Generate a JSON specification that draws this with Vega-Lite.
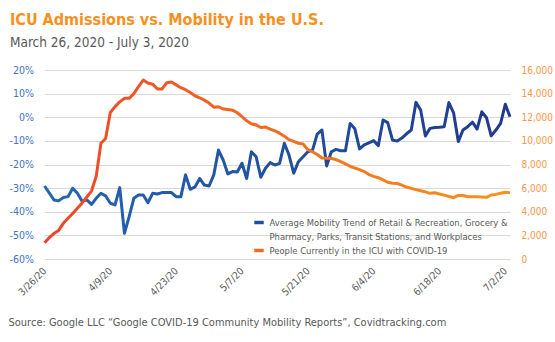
{
  "$schema": "https://vega.github.io/schema/vega-lite/v6.json",
  "autosize": "none",
  "width": 465.5,
  "height": 189,
  "padding": {"top": 70, "left": 44.5, "right": 45, "bottom": 83},
  "config": {"view": {"stroke": null}, "font": "DejaVu Sans Condensed"},
  "title": {
    "text": "ICU Admissions vs. Mobility in the U.S.",
    "subtitle": "March 26, 2020 - July 3, 2020",
    "anchor": "start", "frame": "group", "dx": -34.5, "offset": 16,
    "font": "DejaVu Sans Condensed", "fontSize": 16, "fontWeight": "bold", "color": "#F7901E",
    "subtitleFont": "DejaVu Sans Condensed", "subtitleFontSize": 13.5, "subtitleColor": "#595959", "subtitlePadding": 8
  },
  "data": {"values": [
    {"date":"2020-03-26","mobility":-29.1,"icu":1380},
    {"date":"2020-03-27","mobility":-32.0,"icu":1800},
    {"date":"2020-03-28","mobility":-35.0,"icu":2150},
    {"date":"2020-03-29","mobility":-35.4,"icu":2420},
    {"date":"2020-03-30","mobility":-34.0,"icu":3020},
    {"date":"2020-03-31","mobility":-33.6,"icu":3450},
    {"date":"2020-04-01","mobility":-30.1,"icu":3850},
    {"date":"2020-04-02","mobility":-32.2,"icu":4300},
    {"date":"2020-04-03","mobility":-35.5,"icu":4750},
    {"date":"2020-04-04","mobility":-35.0,"icu":5250},
    {"date":"2020-04-05","mobility":-36.9,"icu":5750},
    {"date":"2020-04-06","mobility":-34.3,"icu":7000},
    {"date":"2020-04-07","mobility":-32.2,"icu":9800},
    {"date":"2020-04-08","mobility":-33.3,"icu":10200},
    {"date":"2020-04-09","mobility":-36.4,"icu":12400},
    {"date":"2020-04-10","mobility":-37.1,"icu":12900},
    {"date":"2020-04-11","mobility":-29.8,"icu":13300},
    {"date":"2020-04-12","mobility":-49.1,"icu":13600},
    {"date":"2020-04-13","mobility":-42.1,"icu":13600},
    {"date":"2020-04-14","mobility":-34.3,"icu":14000},
    {"date":"2020-04-15","mobility":-32.9,"icu":14600},
    {"date":"2020-04-16","mobility":-32.9,"icu":15150},
    {"date":"2020-04-17","mobility":-36.2,"icu":14900},
    {"date":"2020-04-18","mobility":-32.2,"icu":14800},
    {"date":"2020-04-19","mobility":-32.5,"icu":14400},
    {"date":"2020-04-20","mobility":-31.9,"icu":14400},
    {"date":"2020-04-21","mobility":-31.9,"icu":14920},
    {"date":"2020-04-22","mobility":-31.9,"icu":14980},
    {"date":"2020-04-23","mobility":-33.6,"icu":14740},
    {"date":"2020-04-24","mobility":-33.6,"icu":14500},
    {"date":"2020-04-25","mobility":-24.4,"icu":14330},
    {"date":"2020-04-26","mobility":-30.5,"icu":14100},
    {"date":"2020-04-27","mobility":-29.5,"icu":13820},
    {"date":"2020-04-28","mobility":-25.9,"icu":13650},
    {"date":"2020-04-29","mobility":-28.7,"icu":13450},
    {"date":"2020-04-30","mobility":-29.1,"icu":13200},
    {"date":"2020-05-01","mobility":-24.4,"icu":12850},
    {"date":"2020-05-02","mobility":-13.9,"icu":12890},
    {"date":"2020-05-03","mobility":-18.1,"icu":12700},
    {"date":"2020-05-04","mobility":-24.0,"icu":12650},
    {"date":"2020-05-05","mobility":-23.0,"icu":12600},
    {"date":"2020-05-06","mobility":-23.2,"icu":12380},
    {"date":"2020-05-07","mobility":-19.5,"icu":12050},
    {"date":"2020-05-08","mobility":-25.9,"icu":11700},
    {"date":"2020-05-09","mobility":-14.6,"icu":11450},
    {"date":"2020-05-10","mobility":-16.7,"icu":11350},
    {"date":"2020-05-11","mobility":-25.4,"icu":11130},
    {"date":"2020-05-12","mobility":-21.6,"icu":11170},
    {"date":"2020-05-13","mobility":-19.2,"icu":11000},
    {"date":"2020-05-14","mobility":-20.2,"icu":10850},
    {"date":"2020-05-15","mobility":-19.5,"icu":10650},
    {"date":"2020-05-16","mobility":-11.0,"icu":10400},
    {"date":"2020-05-17","mobility":-16.0,"icu":10100},
    {"date":"2020-05-18","mobility":-23.7,"icu":9950},
    {"date":"2020-05-19","mobility":-18.8,"icu":9800},
    {"date":"2020-05-20","mobility":-16.7,"icu":9740},
    {"date":"2020-05-21","mobility":-14.6,"icu":9250},
    {"date":"2020-05-22","mobility":-13.9,"icu":9080},
    {"date":"2020-05-23","mobility":-7.1,"icu":8850},
    {"date":"2020-05-24","mobility":-5.4,"icu":8550},
    {"date":"2020-05-25","mobility":-20.6,"icu":8530},
    {"date":"2020-05-26","mobility":-14.6,"icu":8500},
    {"date":"2020-05-27","mobility":-13.6,"icu":8420},
    {"date":"2020-05-28","mobility":-14.2,"icu":8250},
    {"date":"2020-05-29","mobility":-14.2,"icu":8050},
    {"date":"2020-05-30","mobility":-2.6,"icu":7850},
    {"date":"2020-05-31","mobility":-4.9,"icu":7700},
    {"date":"2020-06-01","mobility":-13.4,"icu":7570},
    {"date":"2020-06-02","mobility":-11.7,"icu":7400},
    {"date":"2020-06-03","mobility":-10.8,"icu":7150},
    {"date":"2020-06-04","mobility":-9.9,"icu":7000},
    {"date":"2020-06-05","mobility":-12.0,"icu":6880},
    {"date":"2020-06-06","mobility":-1.2,"icu":6700},
    {"date":"2020-06-07","mobility":-2.3,"icu":6500},
    {"date":"2020-06-08","mobility":-9.6,"icu":6410},
    {"date":"2020-06-09","mobility":-10.1,"icu":6400},
    {"date":"2020-06-10","mobility":-8.8,"icu":6250},
    {"date":"2020-06-11","mobility":-7.0,"icu":6090},
    {"date":"2020-06-12","mobility":-5.4,"icu":5980},
    {"date":"2020-06-13","mobility":6.3,"icu":5870},
    {"date":"2020-06-14","mobility":3.1,"icu":5780},
    {"date":"2020-06-15","mobility":-7.9,"icu":5680},
    {"date":"2020-06-16","mobility":-4.7,"icu":5560},
    {"date":"2020-06-17","mobility":-4.3,"icu":5610},
    {"date":"2020-06-18","mobility":-4.2,"icu":5500},
    {"date":"2020-06-19","mobility":-4.0,"icu":5410},
    {"date":"2020-06-20","mobility":6.2,"icu":5300},
    {"date":"2020-06-21","mobility":1.9,"icu":5190},
    {"date":"2020-06-22","mobility":-10.3,"icu":5380},
    {"date":"2020-06-23","mobility":-5.4,"icu":5380},
    {"date":"2020-06-24","mobility":-4.0,"icu":5275},
    {"date":"2020-06-25","mobility":-2.1,"icu":5275},
    {"date":"2020-06-26","mobility":-5.0,"icu":5275},
    {"date":"2020-06-27","mobility":2.3,"icu":5250},
    {"date":"2020-06-28","mobility":-0.2,"icu":5220},
    {"date":"2020-06-29","mobility":-7.9,"icu":5420},
    {"date":"2020-06-30","mobility":-5.4,"icu":5470},
    {"date":"2020-07-01","mobility":-2.6,"icu":5560},
    {"date":"2020-07-02","mobility":5.5,"icu":5645},
    {"date":"2020-07-03","mobility":0.2,"icu":5615}
  ]},
  "encoding": {
    "x": {
      "field": "date", "type": "temporal",
      "scale": {"type": "utc", "domain": [{"year": 2020, "month": 3, "date": 26, "utc": true}, {"year": 2020, "month": 7, "date": 3, "utc": true}], "nice": false},
      "axis": {
        "values": [
          {"year": 2020, "month": 3, "date": 26, "utc": true},
          {"year": 2020, "month": 4, "date": 9, "utc": true},
          {"year": 2020, "month": 4, "date": 23, "utc": true},
          {"year": 2020, "month": 5, "date": 7, "utc": true},
          {"year": 2020, "month": 5, "date": 21, "utc": true},
          {"year": 2020, "month": 6, "date": 4, "utc": true},
          {"year": 2020, "month": 6, "date": 18, "utc": true},
          {"year": 2020, "month": 7, "date": 2, "utc": true}
        ],
        "labelExpr": "utcFormat(datum.value, '%-m/%-d/%y')",
        "labelAngle": -45, "labelAlign": "right", "labelBaseline": "middle", "labelPadding": 10,
        "labelOverlap": false, "labelFlush": false, "labelBound": false,
        "labelColor": "#595959", "labelFont": "DejaVu Sans Condensed", "labelFontSize": 10,
        "domain": false, "ticks": false, "grid": false,
        "title": "Source: Google LLC \u201cGoogle COVID-19 Community Mobility Reports\u201d, Covidtracking.com",
        "titleAnchor": "start", "titleAlign": "left", "titleX": -36.5, "titleY": 63, "titleBaseline": "middle",
        "titleFont": "DejaVu Sans Condensed", "titleFontWeight": "normal", "titleFontSize": 11, "titleColor": "#595959"
      }
    }
  },
  "layer": [
    {
      "mark": {"type": "line", "strokeWidth": 3, "strokeJoin": "round",
        "stroke": {"gradient": "linear", "x1": 0, "y1": 0, "x2": 1, "y2": 0,
          "stops": [{"offset": 0, "color": "#2466B2"}, {"offset": 1, "color": "#1E3A8E"}]}},
      "encoding": {
        "y": {"field": "mobility", "type": "quantitative",
          "scale": {"domain": [-60, 20], "nice": false, "zero": false},
          "axis": {"orient": "left", "values": [-60, -50, -40, -30, -20, -10, 0, 10, 20],
            "labelExpr": "datum.value + '%'", "grid": true, "gridColor": "#D9D9D9", "gridWidth": 1,
            "domain": false, "ticks": false, "labelColor": "#4472C4", "labelFont": "DejaVu Sans Condensed",
            "labelFontSize": 10.5, "labelPadding": 11, "title": null}}
      }
    },
    {
      "mark": {"type": "line", "strokeWidth": 3, "strokeJoin": "round",
        "stroke": {"gradient": "linear", "x1": 0, "y1": 0, "x2": 1, "y2": 0,
          "stops": [{"offset": 0, "color": "#EE4427"}, {"offset": 1, "color": "#F7941D"}]}},
      "encoding": {
        "y": {"field": "icu", "type": "quantitative",
          "scale": {"domain": [0, 16000], "nice": false},
          "axis": {"orient": "right", "values": [0, 2000, 4000, 6000, 8000, 10000, 12000, 14000, 16000],
            "labelExpr": "format(datum.value, ',')", "grid": false, "domain": false, "ticks": false, "labelColor": "#F79646",
            "labelFont": "DejaVu Sans Condensed", "labelFontSize": 10, "labelPadding": 11, "title": null}}
      }
    },
    {
      "data": {"values": [
        {"series": "Average Mobility Trend of Retail & Recreation, Grocery &"},
        {"series": "Pharmacy, Parks, Transit Stations, and Workplaces"},
        {"series": "People Currently in the ICU with COVID-19"}
      ]},
      "mark": {"type": "line"},
      "encoding": {
        "x": {"value": 0},
        "y": {"value": 0},
        "color": {"field": "series", "type": "nominal",
          "scale": {"domain": ["Average Mobility Trend of Retail & Recreation, Grocery &", "Pharmacy, Parks, Transit Stations, and Workplaces", "People Currently in the ICU with COVID-19"],
            "range": ["#1F4E9E", "transparent", "#F26B26"]},
          "legend": {"orient": "none", "legendX": 208, "legendY": 146, "title": null,
            "symbolType": "stroke", "symbolStrokeWidth": 3.5, "symbolSize": 90,
            "labelFont": "DejaVu Sans Condensed", "labelFontSize": 9.4, "labelColor": "#595959",
            "labelLimit": 0, "rowPadding": -3, "labelOffset": 4}}
      }
    }
  ],
  "resolve": {"scale": {"y": "independent"}}
}
